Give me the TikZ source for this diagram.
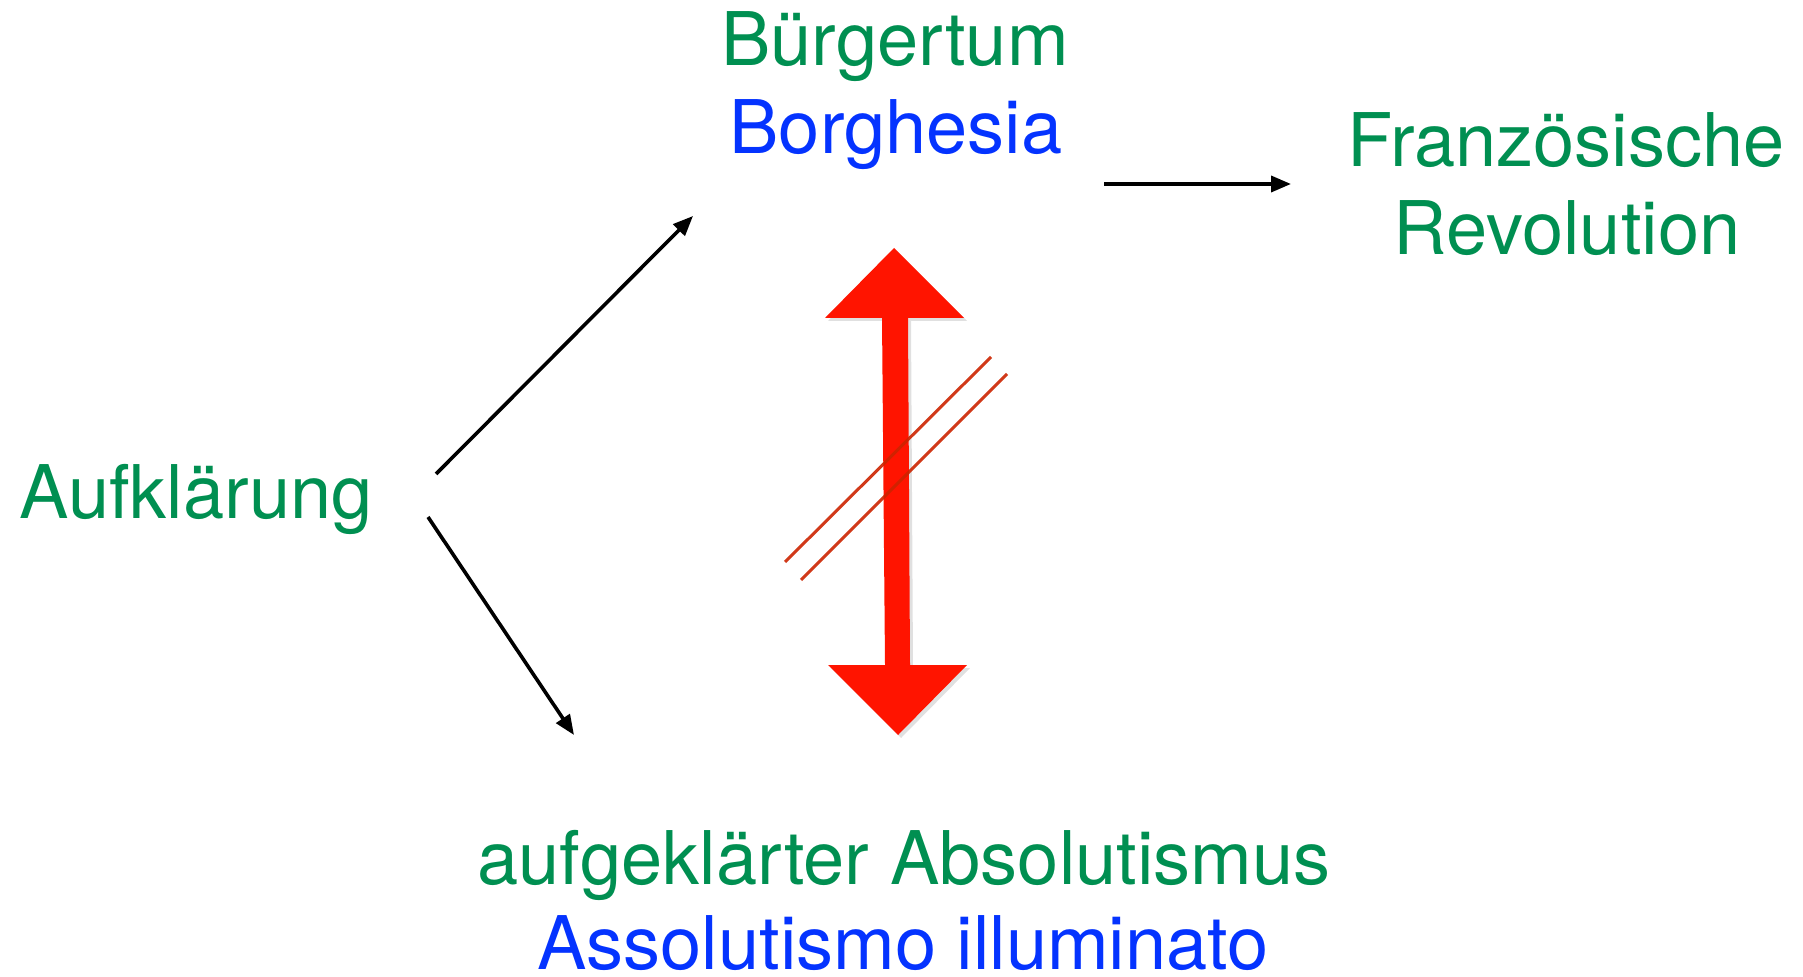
\documentclass[tikz,border=0pt]{standalone}
\usepackage{fontspec}
\setmainfont{TeX Gyre Heros}
\usetikzlibrary{arrows.meta}
\definecolor{kgreen}{HTML}{008F51}
\definecolor{kblue}{HTML}{0433FF}
\definecolor{kred}{HTML}{FF1400}
\definecolor{kline}{HTML}{CC2400}
\tikzset{
  lbl/.style={inner sep=0pt, anchor=base, font=\fontsize{37}{44}\selectfont},
  de/.style={lbl, text=kgreen},
  it/.style={lbl, text=kblue},
  conn/.style={line width=1.8pt, -{Triangle[length=10pt,width=8pt]}},
  strike/.style={line width=1.5pt, draw=kline, opacity=0.9},
}
\begin{document}
\begin{tikzpicture}[x=0.5pt, y=-0.5pt]
\useasboundingbox (0,0) rectangle (1803,977);
% texts
\node[de] (burg) at (895,66) {Bürgertum};
\node[it] (borg) at (896,154) {Borghesia};
\node[de] (franz) at (1566,167) {Französische};
\node[de] (rev) at (1567,255) {Revolution};
\node[de] (aufk) at (196,519) {Aufklärung};
\node[de] (abs) at (904,884) {aufgeklärter Absolutismus};
\node[it] (ass) at (903,969) {Assolutismo illuminato};
% connector ends
\coordinate (a1s) at (436,474);
\coordinate (a1e) at (693,216);
\coordinate (a2s) at (428,517);
\coordinate (a2e) at (574,735);
\coordinate (a3s) at (1104,184);
\coordinate (a3e) at (1291,184);
\draw[conn] (a1s) -- (a1e);
\draw[conn] (a2s) -- (a2e);
\draw[conn] (a3s) -- (a3e);
% red double arrow (shadow + body)
\fill[black, opacity=0.12, shift={(3,3)}]
  (894,248) -- (964,318) -- (908,318) -- (910,665) -- (967,665) -- (898,735)
  -- (828,665) -- (885,665) -- (882,318) -- (825,318) -- cycle;
\fill[kred]
  (894,248) -- (964,318) -- (908,318) -- (910,665) -- (967,665) -- (898,735)
  -- (828,665) -- (885,665) -- (882,318) -- (825,318) -- cycle;
% strike lines
\coordinate (s1a) at (785,562);
\coordinate (s1b) at (991,357);
\coordinate (s2a) at (801,580);
\coordinate (s2b) at (1007,374);
\draw[strike] (s1a) -- (s1b);
\draw[strike] (s2a) -- (s2b);
\end{tikzpicture}
\end{document}
